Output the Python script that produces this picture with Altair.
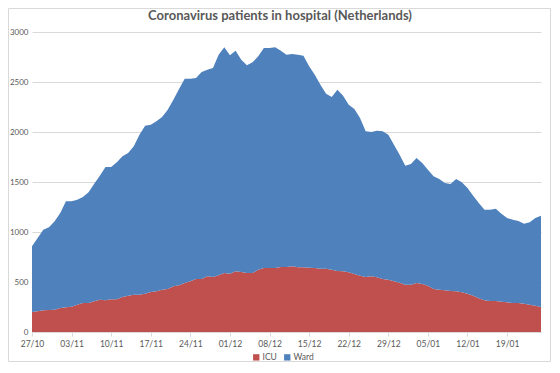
import altair as alt
import pandas as pd

TITLE = "Coronavirus patients in hospital (Netherlands)"
SERIES = ["ICU", "Ward"]
COLORS = ["#C0504D", "#4F81BD"]
TICK_LABELS = ["27/10", "03/11", "10/11", "17/11", "24/11", "01/12", "08/12",
               "15/12", "22/12", "29/12", "05/01", "12/01", "19/01"]
TICK_STEP = 7
Y_TICKS = [0, 500, 1000, 1500, 2000, 2500, 3000]

# daily values from 27/10 to 25/01
ICU = [200, 207, 217, 220, 223, 240, 247, 253, 273, 290,
       290, 307, 323, 317, 327, 327, 350, 363, 373, 373,
       383, 400, 407, 423, 430, 457, 467, 490, 507, 530,
       530, 557, 550, 567, 590, 583, 607, 600, 590, 590,
       623, 640, 640, 640, 650, 650, 657, 647, 647, 643,
       640, 633, 633, 623, 610, 607, 597, 580, 563, 550,
       557, 547, 530, 523, 507, 493, 473, 473, 490, 480,
       463, 430, 423, 417, 410, 407, 397, 383, 363, 337,
       317, 310, 310, 303, 297, 290, 290, 283, 273, 263, 250]

WARD = [657, 733, 806, 827, 884, 950, 1060, 1054, 1050, 1060,
        1107, 1176, 1240, 1333, 1323, 1370, 1407, 1427, 1484, 1600,
        1680, 1673, 1700, 1727, 1793, 1866, 1963, 2043, 2026, 2010,
        2070, 2066, 2090, 2206, 2257, 2184, 2206, 2123, 2077, 2107,
        2134, 2200, 2200, 2207, 2163, 2123, 2123, 2126, 2116, 2014,
        1933, 1840, 1750, 1727, 1813, 1756, 1676, 1650, 1577, 1457,
        1443, 1466, 1477, 1450, 1366, 1280, 1190, 1207, 1250, 1210,
        1160, 1127, 1107, 1073, 1070, 1123, 1100, 1057, 1000, 953,
        906, 913, 923, 880, 843, 833, 820, 800, 824, 877, 913]

rows = []
for i, (icu, ward) in enumerate(zip(ICU, WARD)):
    rows.append({"day": i, "series": SERIES[0], "value": icu, "ord": 0})
    rows.append({"day": i, "series": SERIES[1], "value": ward, "ord": 1})
df = pd.DataFrame(rows)

W, H = 509, 300
PAD = {"left": 24, "top": 24, "right": 10, "bottom": 30}
FONT = "Lato"
GREY = "#595959"

label_expr = "[" + ",".join(f"'{l}'" for l in TICK_LABELS) + f"][round(datum.value/{TICK_STEP})]"

area = alt.Chart(df).mark_area(interpolate="linear", opacity=1).encode(
    x=alt.X("day:Q",
            scale=alt.Scale(domain=[0, len(ICU) - 1], nice=False, zero=False),
            axis=alt.Axis(values=[i * TICK_STEP for i in range(len(TICK_LABELS))],
                          labelExpr=label_expr, title=None, grid=False,
                          domainColor="#D9D9D9", tickColor="#D9D9D9", tickSize=4,
                          labelFontSize=8.5, labelColor=GREY, labelFont=FONT,
                          labelPadding=3, labelFlush=False, labelOverlap=False)),
    y=alt.Y("value:Q", stack="zero",
            scale=alt.Scale(domain=[0, 3000], nice=False),
            axis=alt.Axis(values=Y_TICKS, format="d", title=None, domain=False,
                          ticks=False, gridColor="#D9D9D9", labelFontSize=8,
                          labelColor=GREY, labelFont=FONT, labelPadding=4)),
    color=alt.Color("series:N",
                    scale=alt.Scale(domain=SERIES, range=COLORS),
                    legend=alt.Legend(title=None, orient="none", direction="horizontal",
                                      legendX=220, legendY=321, symbolType="square",
                                      symbolSize=40, symbolStrokeWidth=0,
                                      labelFontSize=8.5, labelColor=GREY, labelFont=FONT,
                                      columnPadding=6, labelOffset=2)),
    order=alt.Order("ord:Q"),
)

frame = alt.Chart(pd.DataFrame({"a": [0]})).mark_rect(
    fillOpacity=0, stroke="#D9D9D9", strokeWidth=1
).encode(
    x=alt.value(-PAD["left"] + 0.5), x2=alt.value(W + PAD["right"] - 0.5),
    y=alt.value(-PAD["top"] + 0.5), y2=alt.value(H + PAD["bottom"] - 0.5),
)

title = alt.Chart(pd.DataFrame({"t": [TITLE]})).mark_text(
    font=FONT, fontSize=13, fontWeight="bold", color=GREY,
    align="center", baseline="middle"
).encode(
    text="t:N", x=alt.value(248), y=alt.value(-16),
)

chart = alt.layer(area, frame, title).properties(
    width=W, height=H, padding=PAD, autosize="none",
).configure_view(stroke=None)

chart.save("out.html", embed_options={"renderer": "svg", "actions": False})
